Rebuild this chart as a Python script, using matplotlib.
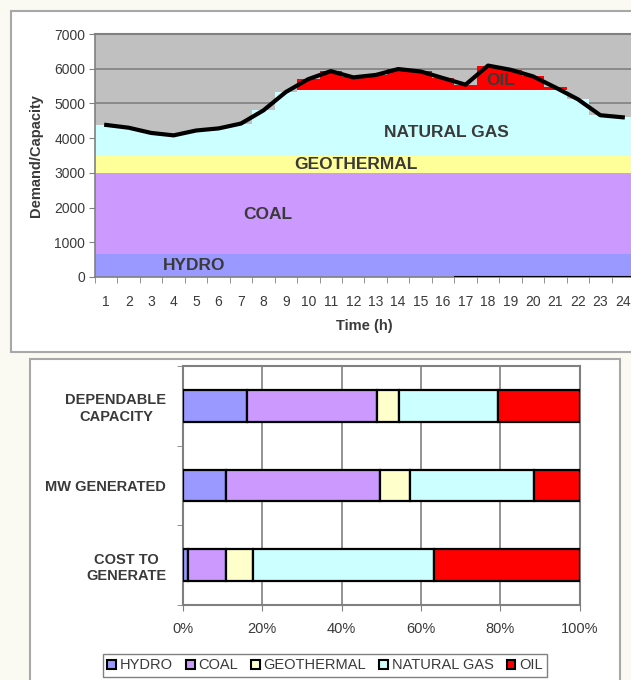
import numpy as np
import matplotlib.pyplot as plt
from matplotlib.patches import Rectangle, Patch

plt.rcParams['font.family'] = ['Liberation Sans', 'DejaVu Sans']

# hourly load curve (MW) and fixed capacity blocks
hours = np.arange(1, 25)
demand = np.array([4380, 4300, 4150, 4080, 4220, 4280, 4420, 4800, 5330, 5700,
                   5930, 5750, 5820, 5990, 5920, 5730, 5540, 6090, 5970, 5780,
                   5460, 5120, 4660, 4600])
hydro_cap = 670
coal_cap = 2330
geo_cap = 500
gas_limit = 5400

# share of each source (%)
categories = ['DEPENDABLE\nCAPACITY', 'MW GENERATED', 'COST TO\nGENERATE']
sources = ['HYDRO', 'COAL', 'GEOTHERMAL', 'NATURAL GAS', 'OIL']
shares = {
    'HYDRO':       [16.2, 10.8, 1.2],
    'COAL':        [32.7, 38.9, 9.6],
    'GEOTHERMAL':  [5.6, 7.6, 6.8],
    'NATURAL GAS': [25.0, 31.2, 45.6],
    'OIL':         [20.5, 11.5, 36.8],
}

area_colors = {'HYDRO': '#9999ff', 'COAL': '#cc99ff', 'GEOTHERMAL': '#ffff99',
               'NATURAL GAS': '#ccffff', 'OIL': '#ff0000'}
bar_colors = dict(area_colors, GEOTHERMAL='#ffffcc')
txt = '#3a3a3a'

W, H = 631, 680
fig = plt.figure(figsize=(W / 100, H / 100), dpi=100, facecolor='#fbfaf2')

def fig_box(x0, y0, x1, y1):
    # pixel box (top-left origin) -> figure fraction rect
    return [x0 / W, 1 - y1 / H, (x1 - x0) / W, (y1 - y0) / H]

# white chart panels, kept behind both axes
for x0, y0, x1, y1 in [(11, 11, 660, 352), (30, 359, 620, 700)]:
    b = fig_box(x0, y0, x1, y1)
    fig.patches.append(Rectangle((b[0], b[1]), b[2], b[3], transform=fig.transFigure,
                                 facecolor='white', edgecolor='#a8a8a8', lw=1.5, zorder=-5))

# ---- load curve ----
ax = fig.add_axes(fig_box(95, 34, 634, 277))
ax.set_facecolor('#c0c0c0')
gas = np.minimum(demand, gas_limit) - (hydro_cap + coal_cap + geo_cap)
oil = np.maximum(demand - gas_limit, 0)
bottom = np.zeros(24)
for name, vals in [('HYDRO', np.full(24, hydro_cap)), ('COAL', np.full(24, coal_cap)),
                   ('GEOTHERMAL', np.full(24, geo_cap)), ('NATURAL GAS', gas), ('OIL', oil)]:
    ax.bar(hours, vals, width=1.0, bottom=bottom, color=area_colors[name], lw=0, zorder=2)
    bottom = bottom + vals
ax.plot(hours, demand, color='black', lw=3, zorder=4, solid_joinstyle='round')
ax.hlines(0, 16.5, 24.5, color='black', lw=1.5, zorder=5)

ax.set_xlim(0.5, 24.5)
ax.set_ylim(0, 7000)
ax.set_yticks(np.arange(0, 7001, 1000))
ax.yaxis.grid(True, color='#808080', lw=1.2)
ax.set_axisbelow(True)
ax.axhline(7000, color='#808080', lw=1.5, clip_on=False, zorder=1)
ax.set_xticks(hours)
ax.set_xticks(np.arange(0.5, 25, 1), minor=True)
ax.tick_params(axis='x', which='major', length=0, pad=13, labelsize=10, labelcolor=txt)
ax.tick_params(axis='x', which='minor', length=4, color='#808080')
ax.tick_params(axis='y', length=4, color='#808080', labelsize=10, labelcolor=txt, pad=3)
for s in ['top', 'right']:
    ax.spines[s].set_visible(False)
for s in ['left', 'bottom']:
    ax.spines[s].set_color('#808080')
    ax.spines[s].set_linewidth(1.2)
ax.set_xlabel('Time (h)', fontsize=10.5, fontweight='bold', color=txt, labelpad=7)
ax.set_ylabel('Demand/Capacity', fontsize=10.5, fontweight='bold', color=txt, labelpad=8)

for label, x, y in [('OIL', 18.56, 5650), ('NATURAL GAS', 16.13, 4160),
                    ('GEOTHERMAL', 12.12, 3240), ('COAL', 8.19, 1800), ('HYDRO', 4.9, 330)]:
    ax.text(x, y, label, ha='center', va='center', fontsize=12.5, fontweight='bold',
            color=txt, zorder=6)

# ---- percentage bars ----
bx = fig.add_axes(fig_box(183, 366, 579.5, 605))
ypos = np.arange(len(categories))[::-1]
left = np.zeros(len(categories))
for name in sources:
    vals = np.array(shares[name])
    bx.barh(ypos, vals, height=0.4, left=left, color=bar_colors[name],
            edgecolor='black', lw=1.6, zorder=3)
    left = left + vals

bx.set_xlim(0, 100)
bx.set_ylim(-0.5, 2.5)
bx.set_xticks(np.arange(0, 101, 20))
bx.set_xticklabels([f'{v}%' for v in range(0, 101, 20)])
bx.xaxis.grid(True, color='#808080', lw=1.2)
bx.set_axisbelow(True)
bx.set_yticks(ypos)
bx.set_yticklabels(categories, multialignment='center')
bx.set_yticks(np.arange(-0.5, 3, 1), minor=True)
bx.tick_params(axis='y', which='major', length=0, pad=12, labelsize=10.5, labelcolor=txt)
for t in bx.get_yticklabels():
    t.set_fontweight('bold')
bx.tick_params(axis='y', which='minor', length=4, color='#808080')
bx.tick_params(axis='x', length=4, color='#808080', labelsize=10.5, labelcolor=txt, pad=8)
for s in bx.spines.values():
    s.set_color('#808080')
    s.set_linewidth(1.5)

handles = [Patch(facecolor=bar_colors[n], edgecolor='black', lw=1.5, label=n) for n in sources]
leg = fig.legend(handles=handles, loc='upper left', bbox_to_anchor=(103 / W, 1 - 654 / H),
                 ncol=5, fontsize=10.5, frameon=True, fancybox=False, framealpha=1,
                 edgecolor='#808080', handlelength=0.6, handleheight=0.6,
                 handletextpad=0.25, columnspacing=0.9, borderpad=0.3, borderaxespad=0)
leg.get_frame().set_linewidth(1.0)
for t in leg.get_texts():
    t.set_color(txt)

fig.savefig('out.png', dpi=100, facecolor=fig.get_facecolor())
